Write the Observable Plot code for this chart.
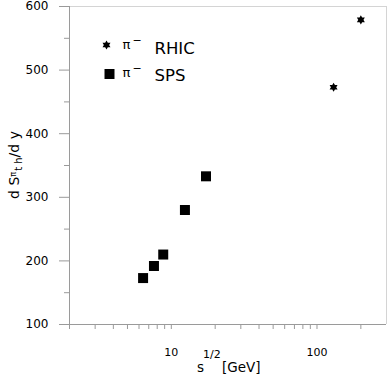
<!DOCTYPE html>
<html><head><meta charset="utf-8">
<script src="https://cdn.jsdelivr.net/npm/d3@7"></script>
<script src="https://cdn.jsdelivr.net/npm/@observablehq/plot@0.6"></script>
<style>body{margin:0;background:#fff} svg{display:block}</style>
</head><body><div id="chart"></div>
<script>
// data
const rhicX = [130, 200];
const rhicY = [473, 579];
const spsX = [6.4, 7.6, 8.8, 12.4, 17.3];
const spsY = [173, 192, 210, 280, 333];
const xMajorTicks = [10, 100];
const xMinorTicks = [2, 3, 4, 5, 6, 7, 8, 9, 20, 30, 40, 50, 60, 70, 80, 90, 200];
const yMajorTicks = [100, 200, 300, 400, 500, 600];
const yMinorTicks = [150, 250, 350, 450, 550];
const seriesNames = ["RHIC", "SPS"];
const particle = "π";

const rhic = rhicX.map((x, i) => ({x, y: rhicY[i]}));
const sps = spsX.map((x, i) => ({x, y: spsY[i]}));

const hexagram = {
  draw(ctx, size) {
    const r = Math.sqrt(size / Math.PI) * 1.15;
    for (const a0 of [-Math.PI / 2, Math.PI / 2]) {
      for (let k = 0; k < 3; k++) {
        const a = a0 + k * 2 * Math.PI / 3;
        const px = r * Math.cos(a), py = r * Math.sin(a);
        if (k) ctx.lineTo(px, py); else ctx.moveTo(px, py);
      }
      ctx.closePath();
    }
  }
};

const axisGray = "#9a9a9a";
const lightGray = "#d4d4d4";

const plot = Plot.plot({
  width: 388, height: 376,
  marginLeft: 69, marginRight: 2, marginTop: 6, marginBottom: 52,
  style: {fontFamily: "DejaVu Sans", fontSize: "11px", color: "#000", background: "#fff"},
  x: {type: "log", domain: [2, 300], axis: null},
  y: {domain: [100, 600], axis: null},
  marks: [
    Plot.ruleY([600], {stroke: lightGray}),
    Plot.ruleX([300], {stroke: lightGray}),
    Plot.axisX(xMinorTicks, {tickSize: 5, tickFormat: () => "", stroke: axisGray, label: null}),
    Plot.axisX(xMajorTicks, {tickSize: 5, tickPadding: 19, stroke: axisGray, fill: "#000", label: null, tickFormat: d => String(d), fontSize: 11}),
    Plot.axisY(yMajorTicks, {tickSize: 10, tickPadding: 11, stroke: axisGray, fill: "#000", label: null, tickFormat: d => String(d), fontSize: 12}),
    Plot.axisY(yMinorTicks, {tickSize: 5, tickFormat: () => "", stroke: axisGray, label: null}),
    Plot.ruleY([100], {stroke: axisGray}),
    Plot.ruleX([2], {stroke: axisGray}),
    Plot.dot(sps, {x: "x", y: "y", symbol: "square", r: 5.64, fill: "#000", stroke: "none"}),
    Plot.dot(rhic, {x: "x", y: "y", symbol: hexagram, r: 4, fill: "#000", stroke: "none"}),
    // legend
    Plot.dot([seriesNames[0]], {frameAnchor: "top-left", dx: 37, dy: 38.5, symbol: hexagram, r: 4, fill: "#000", stroke: "none"}),
    Plot.dot([seriesNames[1]], {frameAnchor: "top-left", dx: 40, dy: 67.5, symbol: "square", r: 5.64, fill: "#000", stroke: "none"}),
    Plot.text([particle], {frameAnchor: "top-left", dx: 53, dy: 42.5, text: d => d, textAnchor: "start", lineAnchor: "bottom", fontSize: 13}),
    Plot.text(["−"], {frameAnchor: "top-left", dx: 63, dy: 37.5, text: d => d, textAnchor: "start", lineAnchor: "bottom", fontSize: 11}),
    Plot.text([seriesNames[0]], {frameAnchor: "top-left", dx: 85, dy: 47.3, text: d => d, textAnchor: "start", lineAnchor: "bottom", fontSize: 16.5}),
    Plot.text([particle], {frameAnchor: "top-left", dx: 53, dy: 70.3, text: d => d, textAnchor: "start", lineAnchor: "bottom", fontSize: 13}),
    Plot.text(["−"], {frameAnchor: "top-left", dx: 63, dy: 65.3, text: d => d, textAnchor: "start", lineAnchor: "bottom", fontSize: 11}),
    Plot.text([seriesNames[1]], {frameAnchor: "top-left", dx: 85, dy: 74.3, text: d => d, textAnchor: "start", lineAnchor: "bottom", fontSize: 16.5})
  ]
});

document.getElementById("chart").appendChild(plot);

const svg = d3.select(plot);
// x axis label: s^{1/2} [GeV]
const xl = svg.append("text")
  .attr("font-family", "DejaVu Sans").attr("fill", "#000")
  .attr("text-anchor", "start")
  .attr("x", 197).attr("y", 372).attr("font-size", 13.5);
xl.append("tspan").text("s");
xl.append("tspan").attr("font-size", 11).attr("dx", -1).attr("dy", -14).text("1/2");
xl.append("tspan").attr("x", 222).attr("dy", 14).attr("font-size", 13.5).text("[GeV]");

// y axis label: d S^{π-}_{th}/d y
const yl = svg.append("text")
  .attr("font-family", "DejaVu Sans").attr("fill", "#000")
  .attr("transform", "translate(19,165) rotate(-90)")
  .attr("text-anchor", "middle").attr("font-size", 14);
yl.append("tspan").text("d S");
yl.append("tspan").attr("font-size", 8).attr("dy", -3).text("π");
yl.append("tspan").attr("font-size", 10).attr("dx", 1).attr("dy", 6).text("t h");
yl.append("tspan").attr("font-size", 14).attr("dy", -3).text("/d y");
</script>
</body></html>
